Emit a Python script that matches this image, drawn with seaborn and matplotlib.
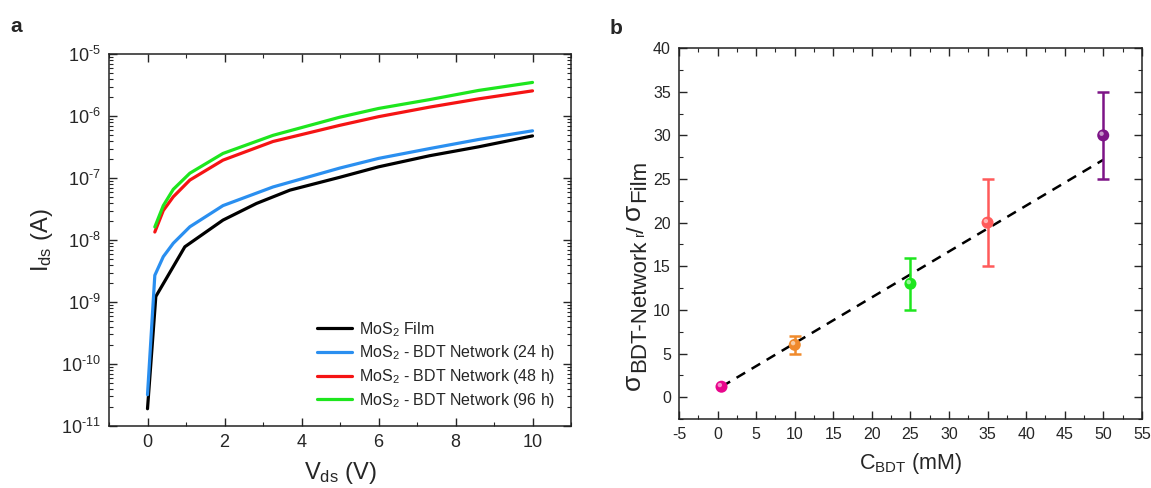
import numpy as np
import pandas as pd
import matplotlib
matplotlib.use("Agg")
import matplotlib.pyplot as plt
import matplotlib.transforms as mtransforms
from matplotlib.ticker import MultipleLocator, LogLocator, NullFormatter, FuncFormatter
import seaborn as sns

# ---------------- data: panel a ----------------
v_film = [0, 0.216, 0.97, 1.96, 2.83, 3.70, 4.99, 6.0, 7.33, 8.6, 10]
i_film = [1.9e-11, 1.23e-9, 7.8e-9, 2.1e-8, 3.9e-8, 6.4e-8, 1.03e-7, 1.52e-7,
          2.3e-7, 3.2e-7, 4.8e-7]
v_24 = [0, 0.19, 0.41, 0.67, 1.10, 1.96, 3.26, 4.99, 6.0, 7.33, 8.6, 10]
i_24 = [3.2e-11, 2.7e-9, 5.4e-9, 8.9e-9, 1.64e-8, 3.6e-8, 7.2e-8, 1.45e-7,
        2.08e-7, 3.0e-7, 4.2e-7, 5.8e-7]
v_48 = [0.19, 0.41, 0.67, 1.10, 1.96, 3.26, 4.99, 6.0, 7.33, 8.6, 10]
i_48 = [1.35e-8, 3.0e-8, 5.0e-8, 9.3e-8, 1.95e-7, 3.9e-7, 7.1e-7, 9.8e-7,
        1.4e-6, 1.9e-6, 2.56e-6]
v_96 = [0.19, 0.41, 0.67, 1.10, 1.96, 3.26, 4.99, 6.0, 7.33, 8.6, 10]
i_96 = [1.63e-8, 3.6e-8, 6.6e-8, 1.2e-7, 2.5e-7, 4.9e-7, 9.6e-7, 1.33e-6,
        1.85e-6, 2.6e-6, 3.5e-6]
series_labels = ["MoS$_2$ Film",
                 "MoS$_2$ - BDT Network (24 h)",
                 "MoS$_2$ - BDT Network (48 h)",
                 "MoS$_2$ - BDT Network (96 h)"]
series_colors = ["#000000", "#2a8ff0", "#f51414", "#1ee61e"]

# ---------------- data: panel b ----------------
c_bdt = [0.5, 10, 25, 35, 50]
ratio = [1.2, 6, 13, 20, 30]
ratio_err = [0.0, 1.0, 3.0, 5.0, 5.0]
point_colors = ["#e8068c", "#f08a2c", "#1ee61e", "#ff5a5a", "#7d1487"]
fit_x = [0.5, 50]
fit_y = [1.2, 27.2]

# ---------------- style ----------------
sns.set_style("ticks")
plt.rcParams["font.family"] = ["Liberation Sans", "DejaVu Sans"]
plt.rcParams["mathtext.fontset"] = "custom"
plt.rcParams["mathtext.rm"] = "Liberation Sans"
plt.rcParams["mathtext.it"] = "Liberation Sans"
plt.rcParams["mathtext.sf"] = "Liberation Sans"
plt.rcParams["mathtext.default"] = "rm"
plt.rcParams["axes.unicode_minus"] = False

W, H = 1151, 488
fig = plt.figure(figsize=(W / 100, H / 100), dpi=100)
ax1 = fig.add_axes([0.0947, 0.127, 0.4014, 0.762])
ax2 = fig.add_axes([0.590, 0.1414, 0.402, 0.760])

# ---------------- panel a ----------------
frames = []
for v, i, lab in zip([v_film, v_24, v_48, v_96], [i_film, i_24, i_48, i_96], series_labels):
    frames.append(pd.DataFrame({"V": v, "I": i, "series": lab}))
df = pd.concat(frames, ignore_index=True)

sns.lineplot(data=df, x="V", y="I", hue="series", hue_order=series_labels,
             palette=dict(zip(series_labels, series_colors)), linewidth=2.3,
             sort=False, ax=ax1)
ax1.set_yscale("log")
ax1.set_xlim(-1, 11)
ax1.set_ylim(1e-11, 1e-5)
ax1.xaxis.set_major_locator(MultipleLocator(2))
ax1.xaxis.set_minor_locator(MultipleLocator(1))
ax1.yaxis.set_major_locator(LogLocator(base=10, numticks=20))
ax1.yaxis.set_minor_locator(LogLocator(base=10, subs=np.arange(2, 10), numticks=50))
ax1.yaxis.set_minor_formatter(NullFormatter())


def log_fmt(val, pos):
    n = int(round(np.log10(val)))
    sign = "\\text{-}" if n < 0 else ""
    return "$10^{%s%d}$" % (sign, abs(n))


ax1.yaxis.set_major_formatter(FuncFormatter(log_fmt))
ax1.set_xlabel("V$_{ds}$ (V)", fontsize=17, labelpad=6)
ax1.set_ylabel("I$_{ds}$ (A)", fontsize=17, labelpad=4)
ax1.tick_params(axis="both", which="major", direction="in", length=6, width=1,
                top=True, right=True, labelsize=13, pad=6)
ax1.tick_params(axis="both", which="minor", direction="in", length=3, width=0.8,
                top=True, right=True)
leg = ax1.legend(loc="lower right", frameon=False, fontsize=11.5,
                 handlelength=2.2, handletextpad=0.4, labelspacing=0.3,
                 borderaxespad=0.6)
for line in leg.get_lines():
    line.set_linewidth(2.3)

# ---------------- panel b ----------------
ax2.plot(fit_x, fit_y, linestyle=(0, (4, 3)), color="black", linewidth=1.8, zorder=2)
for x, y, e, c in zip(c_bdt, ratio, ratio_err, point_colors):
    if e > 0:
        ax2.errorbar([x], [y], yerr=[e], fmt="none", ecolor=c, elinewidth=1.8,
                     capsize=4, capthick=1.8, zorder=3)
dfb = pd.DataFrame({"c": c_bdt, "r": ratio, "k": [str(i) for i in range(len(c_bdt))]})
sns.scatterplot(data=dfb, x="c", y="r", hue="k", palette=point_colors, s=75,
                edgecolor="none", legend=False, ax=ax2, zorder=4)
# glossy highlight
offset = mtransforms.ScaledTranslation(-1.2 / 72, 1.2 / 72, fig.dpi_scale_trans)
ax2.scatter(c_bdt, ratio, s=10, color="white", alpha=0.55, edgecolor="none",
            transform=ax2.transData + offset, zorder=5)

ax2.set_xlim(-5, 55)
ax2.set_ylim(-2.5, 40)
ax2.xaxis.set_major_locator(MultipleLocator(5))
ax2.xaxis.set_minor_locator(MultipleLocator(2.5))
ax2.yaxis.set_major_locator(MultipleLocator(5))
ax2.yaxis.set_minor_locator(MultipleLocator(2.5))
ax2.tick_params(axis="both", which="major", direction="in", length=6, width=1,
                top=True, right=True, labelsize=11.5, pad=6)
ax2.tick_params(axis="both", which="minor", direction="in", length=3, width=0.8,
                top=True, right=True)
ax2.set_xlabel("C$_{BDT}$ (mM)", fontsize=15.5, labelpad=6)

# y-label of panel b built from rotated pieces so subscripts stay large
renderer = fig.canvas.get_renderer()
label_pieces = [("σ", 19, 0), ("BDT-Network", 16, 5.5), (None, 0, 5), ("/", 17, 4),
                (None, 0, 5), ("σ", 19, 0), ("Film", 16, 5.5)]
base_x = 640.0      # baseline position in pixels from the left
cursor = H - 390.0  # start position in pixels from the bottom
for txt, fs, dx in label_pieces:
    if txt is None:
        cursor += dx
        continue
    t = fig.text((base_x + dx) / W, cursor / H, txt, fontsize=fs, rotation=90,
                 rotation_mode="anchor", ha="left", va="baseline")
    cursor += t.get_window_extent(renderer).height + 1.5

for ax in (ax1, ax2):
    for s in ax.spines.values():
        s.set_linewidth(1.1)
        s.set_color("#222222")

fig.text(0.009, 0.935, "a", fontsize=15, fontweight="bold")
fig.text(0.530, 0.93, "b", fontsize=15, fontweight="bold")

fig.savefig("out.png", dpi=100)
